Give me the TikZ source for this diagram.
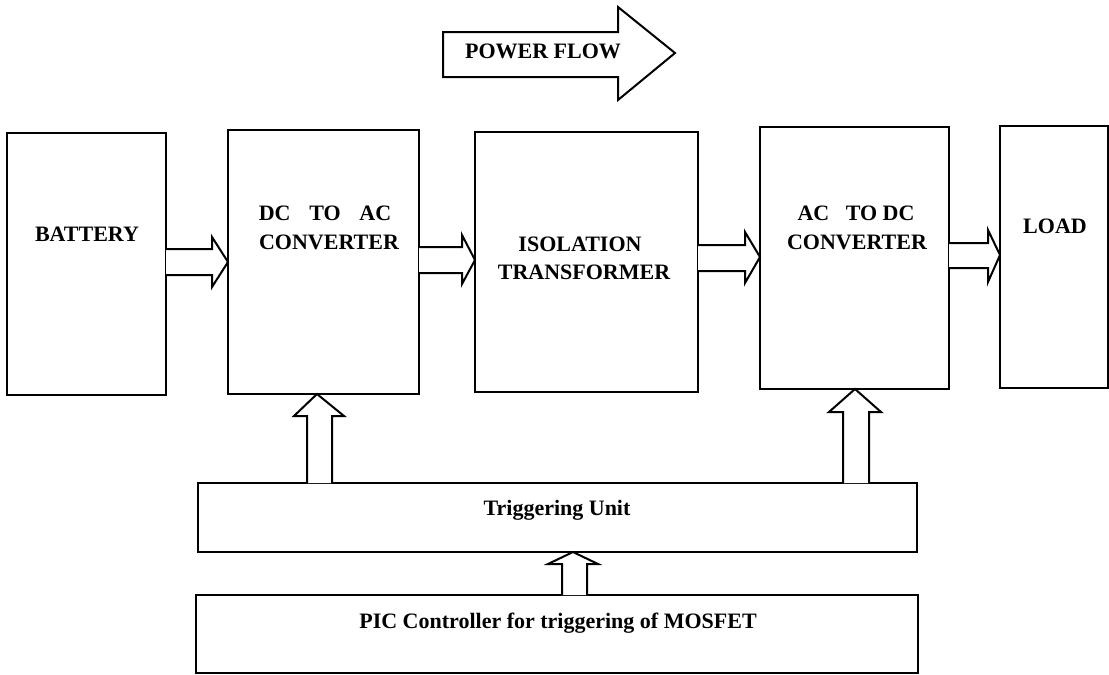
\documentclass[tikz,border=0pt]{standalone}
\usepackage{fontspec}
\setmainfont{Liberation Serif}
\newcommand{\blk}[5]{\node[box, anchor=north west, minimum width={(#4-#2)*0.5pt}, minimum height={(#5-#3)*0.5pt}] (#1) at (#2,#3) {};}
\begin{document}
\begin{tikzpicture}[x=0.5pt,y=-0.5pt,
  box/.style={draw, line width=1pt, inner sep=0pt, outer sep=0pt},
  arr/.style={draw, line width=1pt, line join=miter, fill=white},
  lbl/.style={font=\fontsize{11}{13}\selectfont\bfseries, anchor=base, inner sep=0pt}]
\useasboundingbox (0,0) rectangle (1109,675);
% blocks
\blk{bat}{7}{133}{166}{395}
\blk{dcac}{228}{130}{419}{394}
\blk{iso}{475}{132}{698}{392}
\blk{acdc}{760}{127}{949}{389}
\blk{load}{1000}{126}{1108}{388}
\blk{trig}{198}{483}{917}{552}
\blk{pic}{196}{595}{918}{673}
% labels
\node[lbl] (tbat) at (87,241) {BATTERY};
\node[lbl] (tdc1) at (325,220) {DC\hspace{0.6em} TO\hspace{0.6em} AC};
\node[lbl] (tdc2) at (329,249) {CONVERTER};
\node[lbl] (tiso1) at (580,251) {ISOLATION};
\node[lbl] (tiso2) at (584,279) {TRANSFORMER};
\node[lbl] (tac1) at (856,220) {AC\hspace{0.5em} TO DC};
\node[lbl] (tac2) at (857,249) {CONVERTER};
\node[lbl] (tload) at (1055,233) {LOAD};
\node[lbl] (ttrig) at (557,515) {Triggering Unit};
\node[lbl] (tpic) at (558,628) {PIC Controller for triggering of MOSFET};
% power flow arrow
\draw[arr] (443,32) -- (618,32) -- (618,7) -- (675,53) -- (618,100) -- (618,77) -- (443,77) -- cycle;
\node[lbl] (tpf) at (543,58) {POWER FLOW};
% horizontal block arrows
\draw[arr] (bat.east |- 0,249) -- (212,249) -- (212,237) -- (dcac.west |- 0,262) -- (212,287) -- (212,275) -- (bat.east |- 0,275);
\draw[arr] (dcac.east |- 0,247) -- (462,247) -- (462,235) -- (iso.west |- 0,260) -- (462,284) -- (462,273) -- (dcac.east |- 0,273);
\draw[arr] (iso.east |- 0,245) -- (745,245) -- (745,232) -- (acdc.west |- 0,257) -- (745,283) -- (745,271) -- (iso.east |- 0,271);
\draw[arr] (acdc.east |- 0,243) -- (988,243) -- (988,230) -- (load.west |- 0,255) -- (988,282) -- (988,268) -- (acdc.east |- 0,268);
% vertical block arrows
\draw[arr] (trig.north -| 307,0) -- (307,416) -- (294,416) -- (dcac.south -| 317,0) -- (344,416) -- (332,416) -- (trig.north -| 332,0);
\draw[arr] (trig.north -| 843,0) -- (843,412) -- (829,412) -- (acdc.south -| 855,0) -- (881,412) -- (869,412) -- (trig.north -| 869,0);
\draw[arr] (pic.north -| 562,0) -- (562,564) -- (548,564) -- (trig.south -| 573,0) -- (598,564) -- (587,564) -- (pic.north -| 587,0);
\end{tikzpicture}
\end{document}
